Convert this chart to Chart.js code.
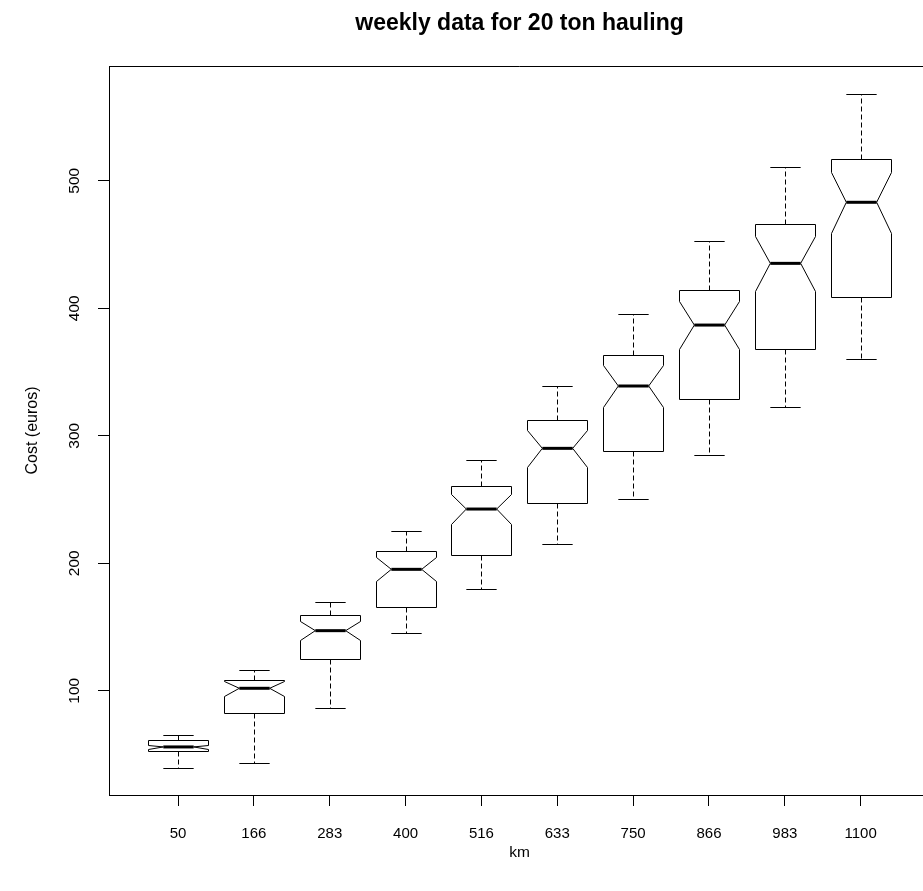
<!DOCTYPE html>
<html>
<head>
<meta charset="utf-8">
<script src="https://cdn.jsdelivr.net/npm/chart.js@4.4.1/dist/chart.umd.min.js"></script>
<style>
  html, body { margin: 0; padding: 0; background: #ffffff; overflow: hidden; width: 923px; height: 891px; }
  #wrap { width: 930px; height: 891px; }
  canvas { display: block; }
</style>
</head>
<body>
<div id="wrap"><canvas id="c" width="930" height="891"></canvas></div>
<script>
// ---- data ----
const categories   = ['50', '166', '283', '400', '516', '633', '750', '866', '983', '1100'];
const lowerWhisker = [39.6, 43.3, 86.2, 145.5, 180.0, 215.1, 250.1, 284.9, 322.7, 360.4];
const q1           = [52.9, 82.3, 124.6, 165.9, 206.4, 247.0, 288.0, 328.5, 368.2, 408.5];
const median       = [55.9, 101.9, 147.1, 195.2, 242.5, 290.1, 339.0, 386.8, 435.2, 483.1];
const q3           = [61.3, 108.4, 159.4, 209.3, 260.5, 312.3, 363.3, 414.3, 466.3, 517.3];
const upperWhisker = [65.1, 116.0, 169.3, 225.3, 280.9, 339.0, 395.5, 452.7, 510.5, 568.2];
const yTicks       = [100, 200, 300, 400, 500];
const nObs = 52; // weekly observations per group (used for R-style notches)

// ---- styling constants ----
const FONT = "'Liberation Sans', Arial, Helvetica, sans-serif";
const BOX_HALF = 0.4;     // half box width, in category units
const STAPLE_HALF = 0.2;  // half whisker cap width
const MED_HALF = 0.2;     // half median line width (notch waist)

const boxPlugin = {
  id: 'notchedBoxes',
  afterDatasetsDraw(chart) {
    const { ctx, scales: { x, y }, chartArea: a } = chart;
    ctx.save();
    ctx.beginPath();
    ctx.rect(a.left, a.top, a.right - a.left, a.bottom - a.top);
    ctx.clip();
    ctx.strokeStyle = '#000';
    ctx.lineJoin = 'miter';
    categories.forEach((c, i) => {
      const pos = i + 1;
      const cx = Math.round(x.getPixelForValue(pos)) + 0.5;
      const hw = x.getPixelForValue(pos + BOX_HALF) - x.getPixelForValue(pos);
      const sw = x.getPixelForValue(pos + STAPLE_HALF) - x.getPixelForValue(pos);
      const mw = x.getPixelForValue(pos + MED_HALF) - x.getPixelForValue(pos);
      const notch = 1.58 * (q3[i] - q1[i]) / Math.sqrt(nObs);
      const py = v => Math.round(y.getPixelForValue(v)) + 0.5;
      const yQ1 = py(q1[i]), yQ3 = py(q3[i]), yMed = y.getPixelForValue(median[i]);
      const yNl = py(median[i] - notch), yNh = py(median[i] + notch);
      const yLw = py(lowerWhisker[i]), yUw = py(upperWhisker[i]);
      const L = Math.round(cx - hw) + 0.5, R = Math.round(cx + hw) - 0.5;

      // whiskers (dashed)
      ctx.lineWidth = 1;
      ctx.setLineDash([5, 3]);
      ctx.beginPath();
      ctx.moveTo(cx, yQ1); ctx.lineTo(cx, yLw);
      ctx.moveTo(cx, yQ3); ctx.lineTo(cx, yUw);
      ctx.stroke();
      ctx.setLineDash([]);
      // staples
      ctx.beginPath();
      ctx.moveTo(cx - sw, yLw); ctx.lineTo(cx + sw, yLw);
      ctx.moveTo(cx - sw, yUw); ctx.lineTo(cx + sw, yUw);
      ctx.stroke();

      // notched box polygon (R bxp style)
      ctx.beginPath();
      ctx.moveTo(L, yQ1);
      ctx.lineTo(L, yNl);
      ctx.lineTo(cx - mw, yMed);
      ctx.lineTo(L, yNh);
      ctx.lineTo(L, yQ3);
      ctx.lineTo(R, yQ3);
      ctx.lineTo(R, yNh);
      ctx.lineTo(cx + mw, yMed);
      ctx.lineTo(R, yNl);
      ctx.lineTo(R, yQ1);
      ctx.closePath();
      ctx.fillStyle = '#ffffff';
      ctx.fill();
      ctx.stroke();

      // median
      ctx.lineWidth = 3;
      ctx.beginPath();
      ctx.moveTo(cx - mw, yMed); ctx.lineTo(cx + mw, yMed);
      ctx.stroke();
    });
    ctx.restore();

    // plot frame (top and right sides)
    ctx.save();
    ctx.strokeStyle = '#000';
    ctx.lineWidth = 1;
    ctx.beginPath();
    const t = Math.round(a.top) + 0.5, r = Math.round(a.right) - 0.5;
    ctx.moveTo(a.left, t); ctx.lineTo(r, t); ctx.lineTo(r, a.bottom);
    ctx.stroke();
    ctx.restore();
  }
};

new Chart(document.getElementById('c'), {
  type: 'scatter',
  data: {
    datasets: [{
      label: 'median',
      data: categories.map((c, i) => ({ x: i + 1, y: median[i] })),
      pointRadius: 0,
      showLine: false
    }]
  },
  options: {
    responsive: false,
    animation: false,
    layout: { padding: 0 },
    plugins: {
      legend: { display: false },
      tooltip: { enabled: false },
      title: {
        display: true,
        text: 'weekly data for 20 ton hauling',
        fullSize: false,
        color: '#000',
        font: { family: FONT, size: 23, weight: 'bold', lineHeight: 1.2 },
        padding: { top: 10, bottom: 28.4 }
      }
    },
    scales: {
      x: {
        type: 'linear',
        min: 0.09,
        max: 10.914,
        afterBuildTicks: s => { s.ticks = categories.map((c, i) => ({ value: i + 1 })); },
        afterFit: s => { s.height = 96; },
        ticks: {
          callback: v => categories[v - 1],
          color: '#000',
          font: { family: FONT, size: 15 },
          padding: 19,
          maxRotation: 0,
          autoSkip: false
        },
        grid: { drawOnChartArea: false, drawTicks: true, tickLength: 11, color: '#000', lineWidth: 1 },
        border: { display: true, color: '#000', width: 1 },
        title: {
          display: true,
          text: 'km',
          color: '#000',
          font: { family: FONT, size: 15.5 },
          padding: { top: 0, bottom: 29 }
        }
      },
      y: {
        type: 'linear',
        min: 18.2,
        max: 590,
        afterBuildTicks: s => { s.ticks = yTicks.map(v => ({ value: v })); },
        afterFit: s => { s.width = 109; },
        ticks: {
          color: '#000',
          font: { family: FONT, size: 15.5 },
          minRotation: 90,
          maxRotation: 90,
          crossAlign: 'center',
          padding: 10.5
        },
        grid: { drawOnChartArea: false, drawTicks: true, tickLength: 11, color: '#000', lineWidth: 1 },
        border: { display: true, color: '#000', width: 1 },
        title: {
          display: true,
          text: 'Cost (euros)',
          color: '#000',
          font: { family: FONT, size: 16 },
          padding: { top: 23, bottom: 0 }
        }
      }
    }
  },
  plugins: [boxPlugin]
});
</script>
</body>
</html>
